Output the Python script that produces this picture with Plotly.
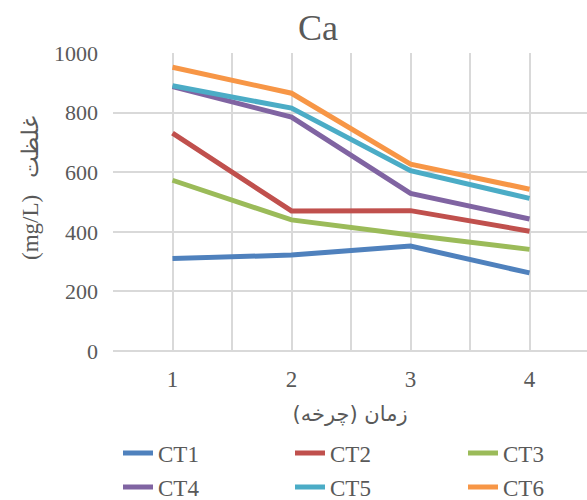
import plotly.graph_objects as go

cycles = [1, 2, 3, 4]
series_names = ["CT1", "CT2", "CT3", "CT4", "CT5", "CT6"]
ct1 = [310, 322, 352, 262]
ct2 = [731, 470, 471, 402]
ct3 = [573, 440, 389, 341]
ct4 = [887, 785, 529, 443]
ct5 = [890, 815, 605, 512]
ct6 = [952, 865, 627, 543]
values = [ct1, ct2, ct3, ct4, ct5, ct6]
colors = ["#4F81BD", "#C0504D", "#9BBB59", "#8064A2", "#4BACC6", "#F79646"]

SERIF = "Liberation Serif, Times New Roman, serif"
TXT = "#595959"
GRID = "#D9D9D9"

legend_x = [118, 290, 463, 118, 290, 463]
legend_y = [453, 453, 453, 487, 487, 487]

fig = go.Figure()
layout_legends = {}
for i, (name, vals, col) in enumerate(zip(series_names, values, colors)):
    key = "legend" if i == 0 else f"legend{i + 1}"
    fig.add_trace(go.Scatter(
        x=cycles, y=vals, name=name, mode="lines",
        line=dict(color=col, width=5),
        legend=key,
    ))
    layout_legends[key] = dict(
        orientation="h", xref="container", yref="container",
        x=legend_x[i] / 587, y=1 - legend_y[i] / 500,
        xanchor="left", yanchor="middle",
        font=dict(family=SERIF, size=23, color=TXT),
        bgcolor="rgba(0,0,0,0)", itemclick=False, borderwidth=0,
    )

fig.update_layout(
    width=587, height=500,
    margin=dict(l=113, r=0, t=53, b=149),
    paper_bgcolor="white", plot_bgcolor="white",
    showlegend=True,
    title=dict(text="Ca", x=318 / 587, xanchor="center", xref="container",
               y=1 - 27 / 500, yanchor="middle", yref="container",
               font=dict(family=SERIF, size=36, color=TXT)),
    xaxis=dict(
        range=[0.5, 4.483], tickvals=cycles, ticktext=[str(c) for c in cycles],
        showgrid=True, gridcolor=GRID, gridwidth=1.5,
        minor=dict(tick0=0.5, dtick=1, showgrid=True, gridcolor=GRID, gridwidth=1.5),
        showline=False, zeroline=False, ticks="",
        tickfont=dict(family=SERIF, size=23, color=TXT),
        ticklabelstandoff=12,
        title=dict(text="زمان (چرخه)\u200f", standoff=15,
                   font=dict(family="DejaVu Sans, sans-serif", size=21, color=TXT)),
    ),
    yaxis=dict(
        range=[0, 1000], dtick=200,
        showgrid=True, gridcolor=GRID, gridwidth=1.5,
        zeroline=True, zerolinecolor=GRID, zerolinewidth=1.5,
        showline=False, ticks="",
        tickfont=dict(family=SERIF, size=22, color=TXT),
        ticklabelstandoff=14,
    ),
    annotations=[dict(
        text="(mg/L)   غلظت", textangle=-90,
        xref="paper", yref="paper",
        x=(30 - 113) / 474, y=(351 - 188) / 298,
        xanchor="center", yanchor="middle", showarrow=False,
        font=dict(family=SERIF, size=23, color=TXT),
    )],
    **layout_legends,
)

fig.write_html("out.html")
